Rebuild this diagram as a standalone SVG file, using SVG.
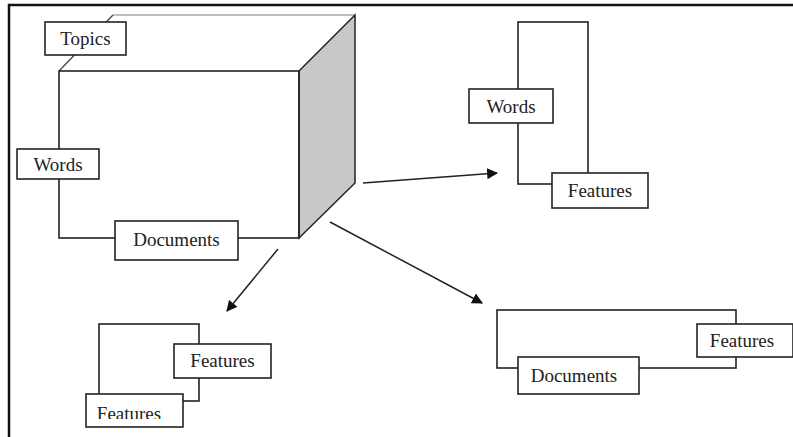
<svg xmlns="http://www.w3.org/2000/svg" width="793" height="437" viewBox="0 0 793 437">
  <defs>
    <style>
      .box { fill: #fff; stroke: #222; stroke-width: 1.6; }
      .frame { fill: none; stroke: #222; stroke-width: 1.6; }
      .lbl { font-family: "Liberation Serif", "Times New Roman", serif; font-size: 19px; fill: #222; text-anchor: middle; }
      .conn { stroke: #222; stroke-width: 1.5; fill: none; marker-end: url(#arrow); }
    </style>
    <marker id="arrow" viewBox="0 0 10 10" refX="9" refY="5" markerWidth="11" markerHeight="11" markerUnits="userSpaceOnUse" orient="auto">
      <path d="M0,0 L10,5 L0,10 z" fill="#111"/>
    </marker>
    <clipPath id="cutBottom">
      <rect x="86" y="394" width="97" height="25"/>
    </clipPath>
  </defs>
  <rect width="793" height="437" fill="#fff"/>

  <!-- outer border (top and left edges) -->
  <path d="M9,437 L9,5 L793,5" fill="none" stroke="#111" stroke-width="2.5"/>

  <!-- cube: Words x Documents x Topics -->
  <g id="cube">
    <line x1="113" y1="15" x2="355" y2="15" stroke="#aaa" stroke-width="1.6"/>
    <line x1="59" y1="71" x2="113" y2="15" stroke="#444" stroke-width="1.3"/>
    <polygon points="299,71 355,15 355,183 299,238" fill="#c8c8c8" stroke="#222" stroke-width="1.5"/>
    <rect x="59" y="71" width="240" height="167" class="frame"/>
  </g>
  <g id="cube-topics">
    <rect x="45" y="22" width="81" height="33" class="box"/>
    <text x="85.5" y="45" class="lbl">Topics</text>
  </g>
  <g id="cube-words">
    <rect x="17" y="149" width="82" height="30" class="box"/>
    <text x="58" y="171" class="lbl">Words</text>
  </g>
  <g id="cube-documents">
    <rect x="115" y="221" width="123" height="39" class="box"/>
    <text x="176.5" y="246" class="lbl">Documents</text>
  </g>

  <!-- Words x Features matrix -->
  <g id="wf-matrix">
    <rect x="518" y="22" width="70" height="162" class="frame"/>
  </g>
  <g id="wf-words">
    <rect x="469" y="89" width="84" height="34" class="box"/>
    <text x="511" y="113" class="lbl">Words</text>
  </g>
  <g id="wf-features">
    <rect x="552" y="173" width="96" height="35" class="box"/>
    <text x="600" y="197" class="lbl">Features</text>
  </g>

  <!-- Features x Features matrix -->
  <g id="ff-matrix">
    <rect x="99" y="324" width="100" height="77" class="frame"/>
  </g>
  <g id="ff-features-col">
    <rect x="174" y="344" width="97" height="34" class="box"/>
    <text x="222.5" y="367" class="lbl">Features</text>
  </g>
  <g id="ff-features-row">
    <rect x="86" y="394" width="97" height="33" class="box"/>
    <text x="129" y="420" class="lbl" clip-path="url(#cutBottom)">Features</text>
  </g>

  <!-- Documents x Features matrix -->
  <g id="df-matrix">
    <rect x="497" y="310" width="239" height="58" class="frame"/>
  </g>
  <g id="df-features">
    <rect x="697" y="324" width="96" height="33" class="box"/>
    <text x="742" y="347" class="lbl">Features</text>
  </g>
  <g id="df-documents">
    <rect x="518" y="357" width="121" height="37" class="box"/>
    <text x="574" y="382" class="lbl">Documents</text>
  </g>

  <!-- connectors -->
  <g id="connectors">
    <line x1="363" y1="183" x2="497" y2="173" class="conn"/>
    <line x1="278" y1="249" x2="227" y2="311" class="conn"/>
    <line x1="330" y1="222" x2="482" y2="303" class="conn"/>
  </g>
</svg>
